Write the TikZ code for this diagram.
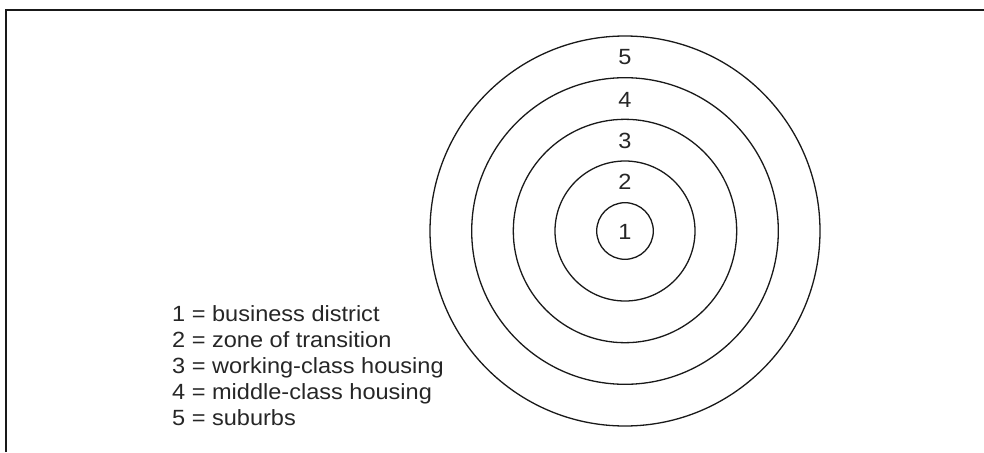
\documentclass[tikz,border=0pt]{standalone}
\usepackage{fontspec}
\setmainfont{Liberation Sans}
\newfontfamily\legfont[FakeStretch=1.07]{Liberation Sans}
\begin{document}
\begin{tikzpicture}[x=1pt,y=-1pt,
  ring/.style={circle,draw=black!90,line width=1.3pt,inner sep=0pt,minimum size=#1},
  lbl/.style={font=\legfont\fontsize{22}{26}\selectfont,text=black!85,inner sep=0pt},
  legend/.style={font=\legfont\fontsize{22}{26.2}\selectfont,text=black!85,align=left,inner sep=0pt,anchor=north west}]
\useasboundingbox (0,0) rectangle (984,452);
\coordinate (c) at (625,231);
\node[ring=390pt] (r5) at (c) {};
\node[ring=306.6pt] (r4) at (c) {};
\node[ring=223.4pt] (r3) at (c) {};
\node[ring=140pt] (r2) at (c) {};
\node[ring=56.6pt] (r1) at (c) {};
\node[lbl] (l1) at (625,232) {1};
\node[lbl] (l2) at (625,182) {2};
\node[lbl] (l3) at (625,141) {3};
\node[lbl] (l4) at (625,99.5) {4};
\node[lbl] (l5) at (625,57.5) {5};
\node[legend] (leg) at (172,305) {1 = business district\\2 = zone of transition\\3 = working-class housing\\4 = middle-class housing\\5 = suburbs};
\coordinate (fa) at (6,452);
\coordinate (fb) at (6,10);
\coordinate (fc) at (984,10);
\draw[line width=2.2pt,black!90] (fa) -- (fb) -- (fc);
\end{tikzpicture}
\end{document}
